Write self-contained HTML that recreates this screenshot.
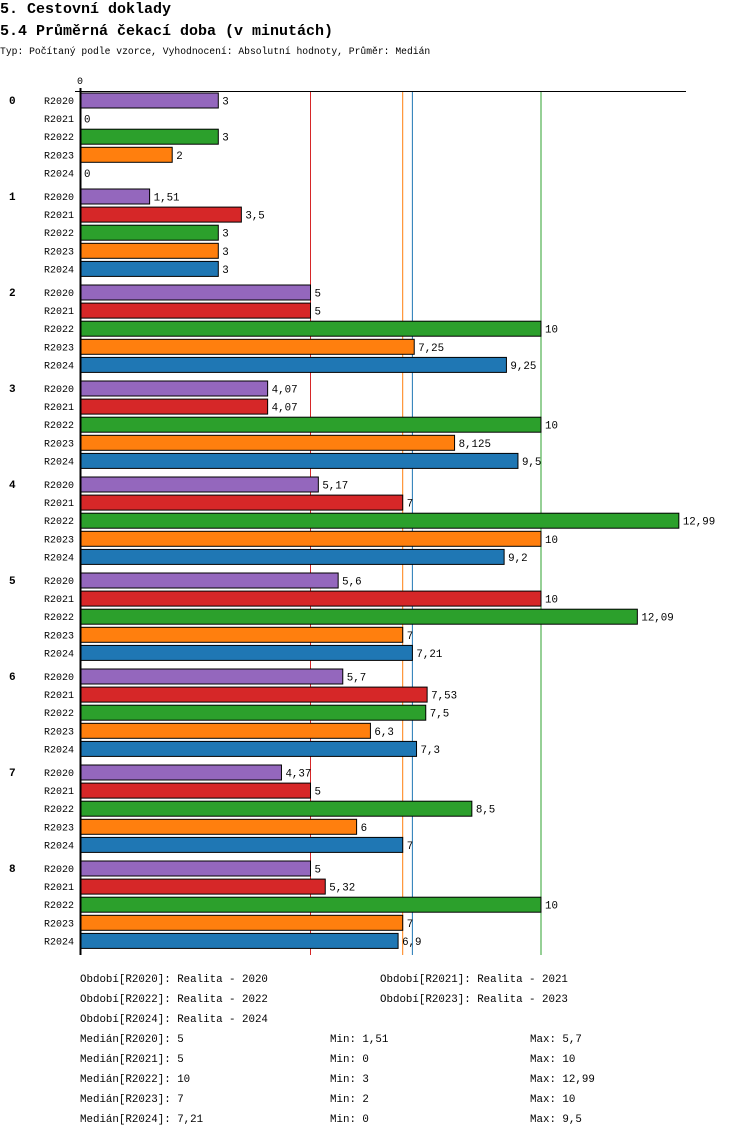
<!DOCTYPE html>
<html><head><meta charset="utf-8"><style>
body{margin:0;background:#fff;}
svg text{font-family:"Liberation Mono",monospace;fill:#000;}
</style></head><body>
<svg id="c" width="750" height="1136" xmlns="http://www.w3.org/2000/svg">
<text x="0" y="13" font-size="15" font-weight="bold">5. Cestovní doklady</text>
<text x="0" y="35" font-size="15" font-weight="bold">5.4 Průměrná čekací doba (v minutách)</text>
<text x="0" y="54" font-size="9.7">Typ: Počítaný podle vzorce, Vyhodnocení: Absolutní hodnoty, Průměr: Medián</text>
<text x="77" y="84" font-size="10">0</text>
<g id="g"></g>
</svg>
<script>
const groups=["0","1","2","3","4","5","6","7","8"];
const series=["R2020","R2021","R2022","R2023","R2024"];
const colors=["#9467bd","#d62728","#2ca02c","#ff7f0e","#1f77b4"];
const v2020=[3,1.51,5,4.07,5.17,5.6,5.7,4.37,5];
const v2021=[0,3.5,5,4.07,7,10,7.53,5,5.32];
const v2022=[3,3,10,10,12.99,12.09,7.5,8.5,10];
const v2023=[2,3,7.25,8.125,10,7,6.3,6,7];
const v2024=[0,3,9.25,9.5,9.2,7.21,7.3,7,6.9];
const medians=[5,5,10,7,7.21];
const mins=[1.51,0,3,2,0];
const maxs=[5.7,10,12.99,10,9.5];
const vals=[v2020,v2021,v2022,v2023,v2024];
const NS="http://www.w3.org/2000/svg";
const g=document.getElementById('g');
const x=v=>80+v*46.1;
const y=(gi,si)=>93+gi*96+si*18.1;
const fmt=v=>String(v).replace('.',',');
function el(t,a,txt){const e=document.createElementNS(NS,t);for(const k in a)e.setAttribute(k,a[k]);if(txt!==undefined)e.textContent=txt;g.appendChild(e);return e;}
[1,3,4,2].forEach(i=>{const e=el('line',{x1:x(medians[i]),x2:x(medians[i]),y1:91,y2:955,stroke:colors[i],'stroke-width':1});

});
groups.forEach((gn,gi)=>{
 const t=el('text',{x:9,y:y(gi,0)+11,'font-size':11,'font-weight':'bold'},gn);
 
 
 series.forEach((s,si)=>{
  const yy=y(gi,si);const v=vals[si][gi];
  const l=el('text',{x:44,y:yy+11,'font-size':10},s);
  
  
  if(v>0){const r=el('rect',{x:80,y:yy,width:x(v)-80,height:15,fill:colors[si],stroke:'#000','stroke-width':1});
  
  }
  const vt=el('text',{x:x(v)+4,y:yy+11.5,'font-size':10.8},fmt(v));
  
  
 });
});
const ax=el('line',{x1:75,x2:686,y1:91.5,y2:91.5,stroke:'#000','stroke-width':1});


const ay=el('line',{x1:80.5,x2:80.5,y1:88,y2:955,stroke:'#000','stroke-width':2});


const leg=[["Období[R2020]: Realita - 2020",80,982],["Období[R2021]: Realita - 2021",380,982],["Období[R2022]: Realita - 2022",80,1002],["Období[R2023]: Realita - 2023",380,1002],["Období[R2024]: Realita - 2024",80,1022]];
leg.forEach(a=>{const e=el('text',{x:a[1],y:a[2],'font-size':10.8},a[0]);

});
series.forEach((s,i)=>{const yy=1042+i*20;
 const a=el('text',{x:80,y:yy,'font-size':10.8},'Medián['+s+']: '+fmt(medians[i]));
 
 
 const b=el('text',{x:330,y:yy,'font-size':10.8},'Min: '+fmt(mins[i]));
 
 
 const c=el('text',{x:530,y:yy,'font-size':10.8},'Max: '+fmt(maxs[i]));
 
 
});
</script>
</body></html>
